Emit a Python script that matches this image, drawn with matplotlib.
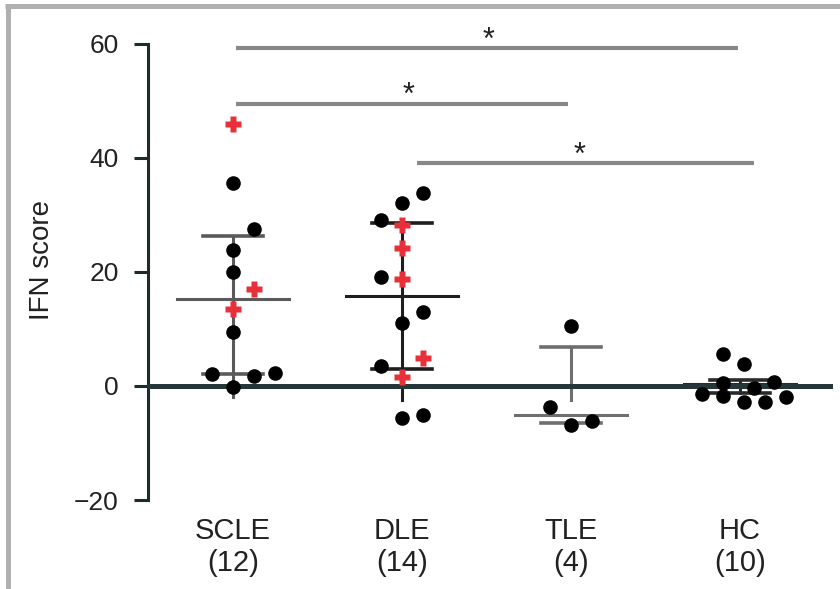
import matplotlib.pyplot as plt
from matplotlib.lines import Line2D

plt.rcParams['font.family'] = ['Liberation Sans', 'DejaVu Sans']

# groups
groups = ["SCLE", "DLE", "TLE", "HC"]
group_n = ["(12)", "(14)", "(4)", "(10)"]

# IFN scores per group (value, horizontal jitter, red = highlighted)
scle_vals = [46.0, 35.6, 27.5, 23.9, 20.0, 17.0, 13.5, 9.5, 2.1, 1.8, 2.3, -0.2]
scle_off = [0, 0, 0.125, 0, 0, 0.125, 0, 0, -0.125, 0.125, 0.25, 0]
scle_red = [1, 0, 0, 0, 0, 1, 1, 0, 0, 0, 0, 0]

dle_vals = [33.9, 32.1, 29.1, 28.2, 24.2, 19.1, 18.8, 13.0, 11.1, 4.9, 3.5, 1.6, -5.6, -5.1]
dle_off = [0.125, 0, -0.125, 0, 0, -0.125, 0, 0.125, 0, 0.125, -0.125, 0, 0, 0.125]
dle_red = [0, 0, 0, 1, 1, 0, 1, 0, 0, 1, 0, 1, 0, 0]

tle_vals = [10.5, -3.7, -6.8, -6.1]
tle_off = [0, -0.125, 0, 0.125]
tle_red = [0, 0, 0, 0]

hc_vals = [5.6, 3.9, 0.7, 0.5, -0.3, -1.4, -1.8, -2.8, -2.8, -1.9]
hc_off = [-0.1, 0.025, 0.2, -0.1, 0.085, -0.225, -0.1, 0.025, 0.145, 0.27]
hc_red = [0] * 10

values = [scle_vals, dle_vals, tle_vals, hc_vals]
offsets = [scle_off, dle_off, tle_off, hc_off]
reds = [scle_red, dle_red, tle_red, hc_red]

# median and interquartile range
medians = [15.3, 15.8, -5.1, 0.3]
q_low = [2.1, 3.0, -6.5, -1.2]
q_high = [26.3, 28.6, 6.9, 1.0]
stem_low = [-2.0, -2.5, -2.5, -1.2]
line_cols = ["#5a5a5a", "#1e1e1e", "#6e6e6e", "#2a2a2a"]

# significance brackets (from, to, y)
sig_x1 = [0.02, 0.02, 1.09]
sig_x2 = [2.99, 1.98, 3.08]
sig_y = [59.3, 49.5, 39.1]
sig_star_x = [1.51, 1.04, 2.05]

fig = plt.figure(figsize=(8.4, 5.89), dpi=100)
ax = fig.add_axes([148 / 840, 89 / 589, 685 / 840, 480 / 589])

for i in range(len(groups)):
    # whisker + median line
    ax.plot([i, i], [stem_low[i], q_high[i]], color=line_cols[i], lw=2.2, zorder=2)
    ax.plot([i - 0.33, i + 0.33], [medians[i], medians[i]], color=line_cols[i], lw=2.2, zorder=2)
    for q in (q_low[i], q_high[i]):
        ax.plot([i - 0.18, i + 0.18], [q, q], color=line_cols[i], lw=2.6, zorder=2)

    for v, o, r in zip(values[i], offsets[i], reds[i]):
        if r:
            ax.plot(i + o, v, marker='P', ms=11, color='#e8303a', mec='none', zorder=5)
        else:
            ax.plot(i + o, v, marker='o', ms=10.5, color='black', mec='none', zorder=4)

ax.axhline(0, color='#26373a', lw=3.6, zorder=3)

for x1, x2, y, sx in zip(sig_x1, sig_x2, sig_y, sig_star_x):
    ax.plot([x1, x2], [y, y], color='#888888', lw=3, solid_capstyle='butt')
    ax.text(sx, y + 1.3, "*", ha='center', va='center', fontsize=22, color='#222222')

ax.set_xlim(-0.503, 3.55)
ax.set_ylim(-20, 64.2)
ax.set_yticks([-20, 0, 20, 40, 60])
ax.set_yticklabels(["\u221220", "0", "20", "40", "60"])
ax.set_xticks(range(4))
ax.set_xticklabels([g + "\n" + n for g, n in zip(groups, group_n)], linespacing=1.2)
ax.tick_params(axis='y', length=10, width=2.2, color='#1f2a2a', labelsize=19, pad=11, labelcolor='#222222')
ax.tick_params(axis='x', length=0, labelsize=21, pad=12, labelcolor='#222222')

for s in ['top', 'right', 'bottom']:
    ax.spines[s].set_visible(False)
ax.spines['left'].set_bounds(-20, 60)
ax.spines['left'].set_linewidth(2.2)
ax.spines['left'].set_color('#1f2a2a')

ax.set_ylabel("IFN score", fontsize=20, color='#222222', labelpad=14)

# grey frame on the left and top edges
fig.add_artist(Line2D([7.5 / 840, 7.5 / 840], [0, 1 - 4 / 589], color='#b0b0b0', lw=3.6,
                      transform=fig.transFigure, solid_capstyle='butt'))
fig.add_artist(Line2D([5 / 840, 1], [1 - 6 / 589, 1 - 6 / 589], color='#b0b0b0', lw=3.6,
                      transform=fig.transFigure, solid_capstyle='butt'))

fig.savefig("out.png", dpi=100)
